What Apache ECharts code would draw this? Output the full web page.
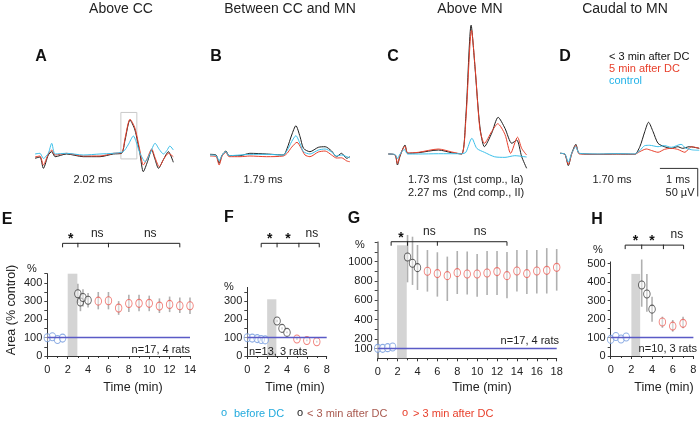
<!DOCTYPE html>
<html><head><meta charset="utf-8">
<script src="https://cdn.jsdelivr.net/npm/echarts@6/dist/echarts.min.js"></script>
<style>html,body{margin:0;padding:0;background:#fff}#c{width:700px;height:423px}</style>
</head><body><div id="c"></div><script>
// ---------- Trace data: [time (ms), amplitude (µV)] ----------
const traceA_early = [[0,-5.9],[0.13,-3.6],[0.22,-23.8],[0.35,0],[0.44,5.9],[0.53,-3],[0.83,1.8],[1.27,-3],[1.71,-3],[2.06,1.8],[2.28,3],[2.37,26.8],[2.5,62.5],[2.63,44.6],[2.76,3],[2.85,-29.8],[2.96,-12],[3.07,8.9],[3.16,-8],[3.25,-23.8],[3.38,-8],[3.51,5.9],[3.64,-13]];
const traceA_5min = [[0,-3.6],[0.13,-1.8],[0.22,-17.9],[0.35,1.8],[0.44,8.9],[0.53,0],[0.83,3],[1.27,-1.8],[1.71,-1.8],[2.06,3],[2.28,4],[2.37,30],[2.5,64],[2.63,48],[2.76,8],[2.85,-17.9],[2.96,-5],[3.07,10.7],[3.16,-5],[3.27,-20.8],[3.4,-6],[3.51,3],[3.64,-3]];
const traceA_control = [[0,1.8],[0.13,3],[0.22,-6],[0.35,3],[0.44,20.9],[0.53,1.8],[0.83,3],[1.27,0],[1.71,1.8],[2.06,3],[2.32,5.9],[2.45,18],[2.59,33.9],[2.68,20],[2.76,3.6],[2.9,-11.9],[3.03,3],[3.16,20.9],[3.27,10],[3.38,1.8],[3.47,8],[3.55,16],[3.64,8.9]];

const traceB_early = [[0,1.2],[0.16,0],[0.24,-14.8],[0.32,0],[0.42,7.1],[0.5,-1.2],[0.79,-1.2],[1.05,3],[1.49,1.8],[1.93,0],[2.03,12],[2.15,35.7],[2.26,52.3],[2.37,32.7],[2.46,12],[2.63,5.9],[2.85,13.7],[3.03,14.8],[3.2,7.1],[3.33,-3],[3.46,3],[3.6,-5.9],[3.68,-3]];
const traceB_5min = [[0,-1.8],[0.16,-3],[0.24,-17.9],[0.32,-1.8],[0.42,5],[0.5,-3],[0.79,-3],[1.05,-1.8],[1.49,-3],[1.93,-1.8],[2.03,3],[2.15,14],[2.29,22.7],[2.4,12],[2.5,0],[2.63,-3],[2.85,5.4],[3.03,7.1],[3.2,0],[3.33,-5.4],[3.46,-5],[3.6,-10.7],[3.68,-12]];
const traceB_control = [[0,0],[0.16,-1.2],[0.24,-10],[0.32,0],[0.42,6],[0.5,-1.2],[0.79,0],[1.05,1.2],[1.49,1.2],[1.93,0],[2.03,8],[2.15,24],[2.26,34.5],[2.37,20],[2.46,6],[2.63,1.8],[2.85,8.9],[3.03,10.7],[3.2,5.4],[3.33,-1.8],[3.46,0],[3.6,-3],[3.68,-5]];

const traceC_early = [[0,0],[0.18,-1.8],[0.24,-19.6],[0.31,-3.6],[0.44,16],[0.51,1.2],[0.79,2.3],[1.32,7.1],[1.67,2.3],[1.93,0],[2.04,66.6],[2.18,230],[2.28,156],[2.41,48.8],[2.53,13],[2.72,37],[2.89,65.5],[3.07,45.9],[3.25,19.1],[3.38,25],[3.51,-4.8],[3.64,-25.5]];
const traceC_5min = [[0,0],[0.18,-1.8],[0.24,-17],[0.31,-1.8],[0.44,14],[0.51,1.8],[0.79,3],[1.32,8.9],[1.67,3.6],[1.93,0],[2.04,60],[2.19,221],[2.29,150],[2.41,45],[2.53,19],[2.72,40],[2.88,54],[3.07,35],[3.22,1.2],[3.4,30],[3.51,10],[3.64,-1.8]];
const traceC_control = [[0,0],[0.18,-1],[0.24,-8],[0.31,0],[0.42,8],[0.51,0],[0.79,0],[1.32,0.5],[1.93,0.5],[2.04,3],[2.2,28],[2.33,10],[2.53,3],[2.8,-5],[3.07,-6],[3.33,-3],[3.64,-5.4]];

const traceD_early = [[0,0],[0.13,-1.8],[0.22,-22],[0.31,0],[0.42,16],[0.51,0],[1.05,-1.8],[1.49,-1.2],[1.97,-1.8],[2.11,11.8],[2.24,38.6],[2.34,55.4],[2.46,38.6],[2.59,17.9],[2.76,11.8],[2.94,8.9],[3.11,11.8],[3.24,8.9],[3.42,11.8],[3.68,8.9]];
const traceD_5min = [[0,0],[0.13,-1.8],[0.22,-20],[0.31,-1.2],[0.42,14],[0.51,-1.2],[1.05,-1.8],[1.49,-1.2],[1.97,-1.8],[2.11,3],[2.28,7.7],[2.42,5],[2.59,1.8],[2.76,7],[2.94,8.9],[3.11,7],[3.3,1.8],[3.47,11.8],[3.68,8.9]];
const traceD_control = [[0,0],[0.13,-1.2],[0.22,-16],[0.31,0],[0.42,12],[0.51,0],[1.05,-1.2],[1.49,-0.6],[1.97,-1.2],[2.11,5],[2.24,13.7],[2.37,14.3],[2.59,11.8],[2.76,13.7],[2.94,10.7],[3.2,16],[3.33,8.9],[3.51,6],[3.68,5.4]];

const zoomBoxA = [[2.26,-7],[2.68,76]];
const scaleBarMs = 1, scaleBarUv = 50, scaleBarOrigin = [2.64,-27];

// ---------- Area (% control): [time (min), mean, low, high] ----------
const E_before = [[0,100],[0.5,105],[1,90],[1.5,98]];
const E_early = [[3,340,290,395],[3.25,295,245,345],[3.5,320,270,365],[4,305,265,345]];
const E_late = [[5,300,255,350],[6,302,255,350],[7,262,225,300],[8,287,240,335],[9,288,245,335],[10,288,245,330],[11,273,235,315],[12,282,240,325],[13,275,235,320],[14,275,230,320]];
const F_before = [[0,100],[0.5,98],[1,95],[1.4,90],[1.8,88]];
const F_early = [[3,191,184,198],[3.5,151,145,157],[4,129,124,134]];
const F_late = [[5,93,88,98],[6,85,80,90],[7,78,73,83]];
const G_before = [[0,103],[0.5,103],[1,110],[1.5,117]];
const G_early = [[3,1048,786,1276],[3.5,983,759,1258],[4,938,707,1172]];
const G_late = [[5,900,690,1120],[6,876,638,1097],[7,855,593,1052],[8,886,665,1110],[9,872,660,1105],[10,872,638,1080],[11,883,655,1110],[12,897,655,1110],[13,855,620,1100],[14,903,690,1120],[15,876,665,1120],[16,903,670,1120],[17,910,670,1140],[18,941,700,1130]];
const H_before = [[0,90],[0.5,106],[1,92],[1.5,103]];
const H_early = [[3,385,267,523],[3.5,336,240,444],[4,254,186,321]];
const H_late = [[5,184,153,213],[6,162,132,195],[7,177,150,213]];

// DC window [start, end, top]
const dcE = [2, 2.95, 450], dcF = [2, 2.93, 310], dcG = [1.95, 2.92, 1170], dcH = [2, 2.85, 445];
// Significance brackets
const brE = [1.5, 3, 6, 13], brLabE = ['*','ns','ns'], brLabXE = [2.3, 4.9, 10.1], brLevE = 616;
const brF = [1.4, 3, 5.2, 7.25], brLabF = ['*','*','ns'], brLabXF = [2.25, 4.1, 6.5], brLevF = 616;
const brG = [1.35, 3, 6, 13], brLabG = ['*','ns','ns'], brLabXG = [2.35, 5.2, 10.3], brLevG = 1206;
const brH = [1.4, 3, 5.1, 7.05], brLabH = ['*','*','ns'], brLabXH = [2.4, 4.0, 6.4], brLevH = 601;

const yLabE = [0,100,200,300,400], yLabF = [0,100,200,300], yLabG = [0,100,200,400,600,800,1000], yLabH = [0,100,200,300,400,500];

// ---------- styling ----------
const FONT = 'Liberation Sans, Arial, sans-serif';
const C_BLACK = '#1e1e1e', C_RED = '#e8402c', C_CYAN = '#3cc0ea';
const C_PT_BLUE = '#7099dd', C_PT_BLACK = '#3a3a3a', C_PT_RED = '#ec5f57';
const C_ERR = '#b0b0b0', C_DC = '#d4d4d4', C_REF = '#5a5ac6';

const chart = echarts.init(document.getElementById('c'));

const traceGrids = [
  {left:35, top:15, width:140.6, height:168, ymin:-50},
  {left:210, top:15, width:140.6, height:168, ymin:-50},
  {left:388.3, top:14, width:140.6, height:168, ymin:-50},
  {left:560, top:13.3, width:140.6, height:196, ymin:-100}
];
const panelGrids = [
  {left:47.3, top:273.7, width:142.7, height:82.3, xmax:14, ymax:450, labs:yLabE, tick:50, axisColor:'#333', axisW:1},
  {left:247.3, top:287.4, width:79.4, height:68.6, xmax:8, ymax:375, labs:yLabF, tick:50, axisColor:'#333', axisW:1},
  {left:377.7, top:242.3, width:179, height:116, xmax:18, ymax:1200, labs:yLabG, tick:100, axisColor:'#9a9a9a', axisW:2},
  {left:610.7, top:261.9, width:82.7, height:94.1, xmax:8, ymax:510, labs:yLabH, tick:50, axisColor:'#333', axisW:1}
];

const grid = [], xAxis = [], yAxis = [], series = [];
traceGrids.forEach((g, i) => {
  grid.push({left:g.left, top:g.top, width:g.width, height:g.height, containLabel:false});
  xAxis.push({gridIndex:i, type:'value', min:0, max:3.7, show:false});
  yAxis.push({gridIndex:i, type:'value', min:g.ymin, max:250, show:false});
});
panelGrids.forEach((g, k) => {
  const i = k + 4;
  grid.push({left:g.left, top:g.top, width:g.width, height:g.height, containLabel:false});
  const tv = []; for (let v = 0; v <= g.ymax; v += g.tick) tv.push(v);
  xAxis.push({gridIndex:i, type:'value', min:0, max:g.xmax, interval:2,
    axisLine:{onZero:false, lineStyle:{color:'#333', width:1}},
    axisTick:{length:3, lineStyle:{color:'#333'}},
    minorTick:{show:true, splitNumber:2, length:2, lineStyle:{color:'#333'}},
    axisLabel:{color:'#222', fontSize:11, fontFamily:FONT, margin:8},
    splitLine:{show:false}});
  yAxis.push({gridIndex:i, type:'value', min:0, max:g.ymax,
    axisLine:{show:true, lineStyle:{color:g.axisColor, width:g.axisW}},
    axisTick:{show:true, length:3, customValues:tv, lineStyle:{color:'#444'}},
    axisLabel:{color:'#222', fontSize:11, fontFamily:FONT, margin:5, customValues:g.labs, formatter:v => String(v)},
    splitLine:{show:false}});
});

function trace(gi, data, color, extra) {
  return Object.assign({type:'line', xAxisIndex:gi, yAxisIndex:gi, data, showSymbol:false, symbol:'none',
    smooth:0.25, silent:true, lineStyle:{color, width:1}, z:2}, extra || {});
}
const traceSets = [
  [traceA_early, traceA_5min, traceA_control],
  [traceB_early, traceB_5min, traceB_control],
  [traceC_early, traceC_5min, traceC_control],
  [traceD_early, traceD_5min, traceD_control]
];
traceSets.forEach((set, gi) => {
  const extra = gi === 0 ? {markArea:{silent:true, itemStyle:{color:'rgba(0,0,0,0)', borderColor:'#c9c9c9', borderWidth:1},
    data:[[{coord:zoomBoxA[0]},{coord:zoomBoxA[1]}]]}} : null;
  series.push(trace(gi, set[0], C_BLACK, extra));
  series.push(trace(gi, set[1], C_RED));
  series.push(trace(gi, set[2], C_CYAN));
});
// scale bar (1 ms, 50 µV)
series.push({type:'line', xAxisIndex:3, yAxisIndex:3, silent:true, symbol:'none', smooth:false,
  lineStyle:{color:'#333', width:1},
  data:[scaleBarOrigin, [scaleBarOrigin[0]+scaleBarMs, scaleBarOrigin[1]], [scaleBarOrigin[0]+scaleBarMs, scaleBarOrigin[1]-scaleBarUv]]});

function errSeries(gi, data) {
  return {type:'custom', xAxisIndex:gi, yAxisIndex:gi, z:3, silent:true, clip:false,
    encode:{x:0, y:1}, data,
    renderItem(params, api) {
      const x = api.value(0), lo = api.value(2), hi = api.value(3);
      const p1 = api.coord([x, lo]), p2 = api.coord([x, hi]);
      return {type:'line', shape:{x1:p1[0], y1:p1[1], x2:p2[0], y2:p2[1]}, style:{stroke:C_ERR, lineWidth:1.6}};
    }};
}
function pts(gi, data, color) {
  return {type:'scatter', xAxisIndex:gi, yAxisIndex:gi, z:4, silent:true, clip:false,
    symbol:'circle', symbolSize:[6.5,8], itemStyle:{color:'rgba(255,255,255,0.6)', borderColor:color, borderWidth:1},
    emphasis:{disabled:true},
    data:data.map(d => [d[0], d[1]])};
}
const panelData = [
  [E_before, E_early, E_late, dcE],
  [F_before, F_early, F_late, dcF],
  [G_before, G_early, G_late, dcG],
  [H_before, H_early, H_late, dcH]
];
panelData.forEach((pd, k) => {
  const gi = k + 4;
  series.push({type:'line', xAxisIndex:gi, yAxisIndex:gi, z:1, silent:true, symbol:'none',
    data:pd[0], lineStyle:{opacity:0},
    markArea:{silent:true, itemStyle:{color:C_DC}, data:[[{coord:[pd[3][0], 0]},{coord:[pd[3][1], pd[3][2]]}]]},
    markLine:{silent:true, symbol:['none','none'], label:{show:false},
      lineStyle:{color:C_REF, width:1.3, type:'solid'}, data:[{yAxis:100}]}});
  series.push(errSeries(gi, pd[1]));
  series.push(errSeries(gi, pd[2]));
  series.push(pts(gi, pd[0], C_PT_BLUE));
  series.push(pts(gi, pd[1], C_PT_BLACK));
  series.push(pts(gi, pd[2], C_PT_RED));
});

chart.setOption({animation:false, backgroundColor:'#fff', grid, xAxis, yAxis, series});

// ---------- text & brackets ----------
const G = [];
function txt(text, x, y, o) {
  o = o || {};
  G.push({type:'text', x, y, rotation:o.rot || 0, silent:true, z:10,
    style:{text, fill:o.color || '#222', font:(o.weight || 'normal') + ' ' + (o.size || 11) + 'px ' + FONT,
      textAlign:o.align || 'center', textVerticalAlign:o.valign || 'middle'}});
}
txt('Above CC', 121, 9, {size:14});
txt('Between CC and MN', 290, 9, {size:14});
txt('Above MN', 470, 9, {size:14});
txt('Caudal to MN', 625, 9, {size:14});
txt('A', 41, 57, {size:16, weight:'bold', color:'#111'});
txt('B', 216, 57, {size:16, weight:'bold', color:'#111'});
txt('C', 393, 57, {size:16, weight:'bold', color:'#111'});
txt('D', 565, 57, {size:16, weight:'bold', color:'#111'});
txt('< 3 min after DC', 609, 57, {align:'left', color:'#111'});
txt('5 min after DC', 609, 69, {align:'left', color:C_RED});
txt('control', 609, 80.5, {align:'left', color:'#22b2e8'});
txt('2.02 ms', 93, 180);
txt('1.79 ms', 263, 180);
txt('1.73 ms  (1st comp., Ia)', 408, 180, {align:'left'});
txt('2.27 ms  (2nd comp., II)', 408, 193, {align:'left'});
txt('1.70 ms', 612, 180);
txt('1 ms', 678, 180);
txt('50 µV', 680, 193);

txt('E', 7, 220, {size:16, weight:'bold', color:'#111'});
txt('F', 229, 218, {size:16, weight:'bold', color:'#111'});
txt('G', 354, 219, {size:16, weight:'bold', color:'#111'});
txt('H', 597, 220, {size:16, weight:'bold', color:'#111'});
txt('%', 32, 269);
txt('%', 229, 287);
txt('%', 360, 245);
txt('%', 598, 250);
txt('Area (% control)', 12, 310, {size:12.5, rot:Math.PI/2});
txt('n=17, 4 rats', 190, 350, {align:'right'});
txt('n=13, 3 rats', 249, 352, {align:'left'});
txt('n=17, 4 rats', 559, 341, {align:'right'});
txt('n=10, 3 rats', 697, 349, {align:'right'});
txt('Time (min)', 133, 388, {size:12.5});
txt('Time (min)', 295, 388, {size:12.5});
txt('Time (min)', 482, 388, {size:12.5});
txt('Time (min)', 664, 388, {size:12.5});
txt('o', 224, 413, {color:'#22aadd'});
txt('before DC', 234, 414, {align:'left', color:'#22aadd'});
txt('o', 300, 413, {color:'#222'});
txt('< 3 min after DC', 307, 414, {align:'left', color:'#a8584e'});
txt('o', 405, 413, {color:C_RED});
txt('> 3 min after DC', 413, 414, {align:'left', color:C_RED});

function bracket(gi, xs, level, labs, labXs) {
  const p = xs.map(x => chart.convertToPixel({gridIndex:gi}, [x, level]));
  const y = p[0][1];
  G.push({type:'polyline', silent:true, z:10, shape:{points:[[p[0][0], y+4],[p[0][0], y],[p[p.length-1][0], y],[p[p.length-1][0], y+4]]},
    style:{stroke:'#222', lineWidth:1, fill:null}});
  for (let j = 1; j < p.length - 1; j++) {
    G.push({type:'line', silent:true, z:10, shape:{x1:p[j][0], y1:y-0.5, x2:p[j][0], y2:y+4}, style:{stroke:'#222', lineWidth:1}});
  }
  labs.forEach((l, j) => {
    const lx = chart.convertToPixel({gridIndex:gi}, [labXs[j], level])[0];
    if (l === '*') txt('*', lx, y - 4, {size:14, weight:'bold', color:'#111'});
    else txt(l, lx, y - 10, {size:12});
  });
}
bracket(4, brE, brLevE, brLabE, brLabXE);
bracket(5, brF, brLevF, brLabF, brLabXF);
bracket(6, brG, brLevG, brLabG, brLabXG);
bracket(7, brH, brLevH, brLabH, brLabXH);

chart.setOption({graphic:G});
</script></body></html>
